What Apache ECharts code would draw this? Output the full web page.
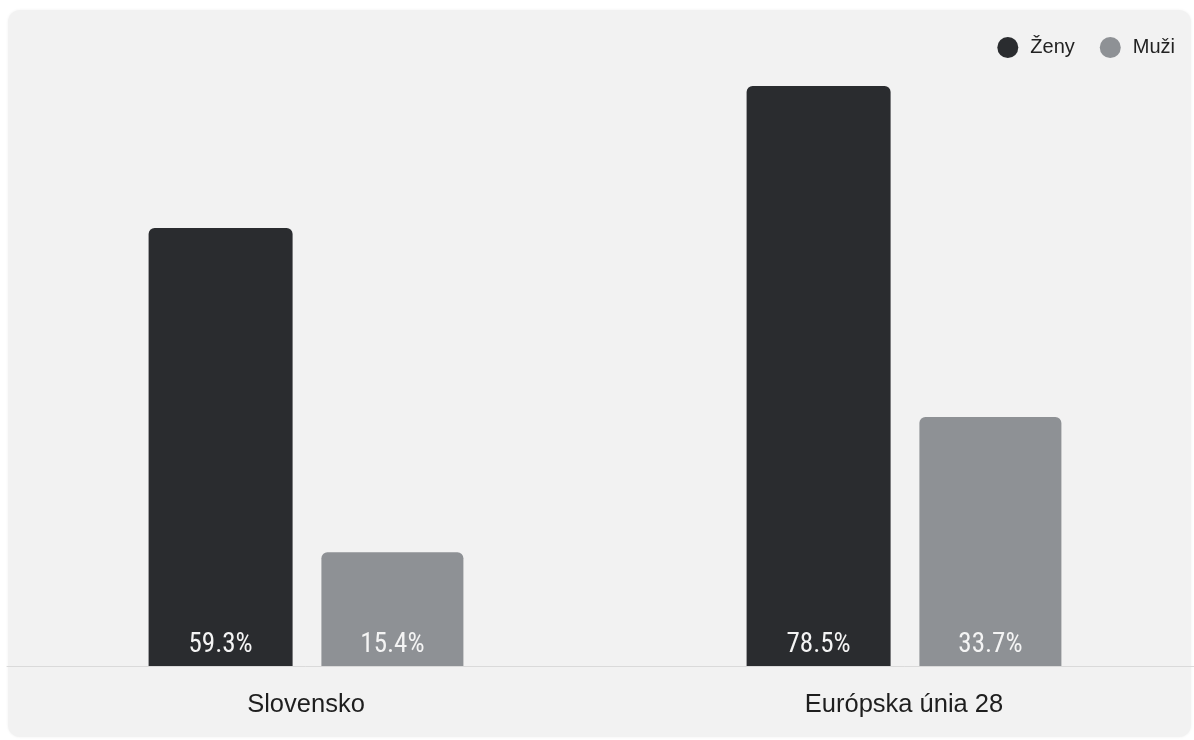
<!DOCTYPE html>
<html>
<head>
<meta charset="utf-8">
<script src="https://cdn.jsdelivr.net/npm/echarts@6/dist/echarts.min.js"></script>
<style>
html,body{margin:0;padding:0;background:#ffffff;width:1194px;height:740px;overflow:hidden;position:relative;}
#card{position:absolute;left:8px;top:10px;width:1183px;height:727px;background:#f2f2f2;border-radius:12px;box-shadow:0 0 3px rgba(0,0,0,0.06);}
#chart{position:absolute;left:0;top:0;width:1212px;height:740px;}
</style>
</head>
<body>
<div id="card"></div>
<div id="chart"></div>
<script>
const categories = ['Slovensko', 'Európska únia 28'];
const seriesNames = ['Ženy', 'Muži'];
const zenyValues = [59.3, 78.5];
const muziValues = [15.4, 33.7];
const seriesColors = ['#2a2c2f', '#8e9195'];

const chart = echarts.init(document.getElementById('chart'), null, {renderer: 'canvas'});
const labelCfg = {
  show: true,
  position: 'insideBottom',
  distance: 7,
  color: '#f4f4f4',
  fontSize: 27,
  fontFamily: '"Liberation Sans Narrow", "Roboto Condensed", "DejaVu Sans Condensed", Roboto, sans-serif',
  formatter: p => p.value.toFixed(1) + '%'
};
chart.setOption({
  backgroundColor: 'transparent',
  animation: false,
  legend: {
    top: 32,
    right: 32,
    icon: 'circle',
    itemWidth: 21,
    itemHeight: 21,
    itemGap: 25,
    textStyle: {fontSize: 20, color: '#222', fontFamily: '"Liberation Sans", Inter, sans-serif', padding: [0, 0, 0, 7]},
    data: seriesNames
  },
  grid: {left: 7, width: 1196, top: 38, bottom: 74, containLabel: false},
  xAxis: {
    type: 'category',
    data: categories,
    axisLine: {show: true, lineStyle: {color: '#dadada', width: 1}},
    axisTick: {show: false},
    axisLabel: {margin: 26, fontSize: 25.5, color: '#1e1e1e', fontFamily: '"Liberation Sans", Inter, sans-serif'}
  },
  yAxis: {
    type: 'value',
    min: 0,
    max: 85,
    show: false,
    splitLine: {show: false}
  },
  series: [
    {
      name: seriesNames[0],
      type: 'bar',
      data: zenyValues,
      barWidth: 144,
      barGap: '20%',
      itemStyle: {color: seriesColors[0], borderRadius: [6, 6, 0, 0]},
      label: labelCfg
    },
    {
      name: seriesNames[1],
      type: 'bar',
      data: muziValues,
      barWidth: 142,
      barGap: '20%',
      itemStyle: {color: seriesColors[1], borderRadius: [6, 6, 0, 0]},
      label: labelCfg
    }
  ]
});
</script>
</body>
</html>
